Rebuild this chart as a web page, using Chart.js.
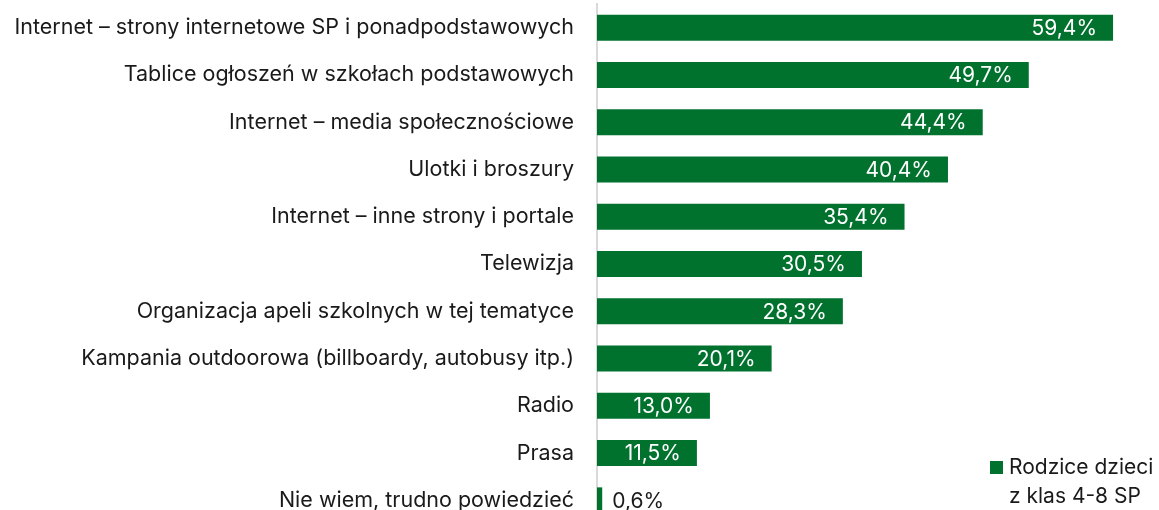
<!DOCTYPE html>
<html>
<head>
<meta charset="utf-8">
<script src="https://cdn.jsdelivr.net/npm/chart.js@4"></script>
<style>
  html, body { margin: 0; padding: 0; background: #fff; overflow: hidden; }
  #wrap { position: relative; width: 1159px; height: 510px; }
  #legend {
    position: absolute; left: 990px; top: 452px;
    font: 21px Inter, sans-serif; color: #1a1a1a; line-height: 29px;
  }
  #legend .box { display: inline-block; width: 13px; height: 13px; background: #00722e; margin-right: 6px; }
</style>
</head>
<body>
<div id="wrap">
  <canvas id="chart" width="1159" height="524"></canvas>
  <div id="legend"><span class="box"></span>Rodzice dzieci<br><span style="margin-left:19px">z klas 4-8 SP</span></div>
</div>
<script>
// kategorie i wartości (%)
const categories = [
  "Internet – strony internetowe SP i ponadpodstawowych",
  "Tablice ogłoszeń w szkołach podstawowych",
  "Internet – media społecznościowe",
  "Ulotki i broszury",
  "Internet – inne strony i portale",
  "Telewizja",
  "Organizacja apeli szkolnych w tej tematyce",
  "Kampania outdoorowa (billboardy, autobusy itp.)",
  "Radio",
  "Prasa",
  "Nie wiem, trudno powiedzieć"
];
const values = [59.4, 49.7, 44.4, 40.4, 35.4, 30.5, 28.3, 20.1, 13.0, 11.5, 0.6];
const seriesName = "Rodzice dzieci z klas 4-8 SP";

const fontFamily = "Inter, sans-serif";

// etykiety wartości na słupkach
const valueLabels = {
  id: "valueLabels",
  afterDatasetsDraw(chart) {
    const ctx = chart.ctx;
    const meta = chart.getDatasetMeta(0);
    ctx.save();
    ctx.font = "21px " + fontFamily;
    ctx.textBaseline = "middle";
    meta.data.forEach((bar, i) => {
      const text = values[i].toFixed(1).replace(".", ",") + "%";
      const w = ctx.measureText(text).width;
      const barW = bar.x - bar.base;
      if (barW > w + 24) {
        ctx.fillStyle = "#ffffff";
        ctx.textAlign = "right";
        ctx.fillText(text, bar.x - 16, bar.y + 1);
      } else {
        ctx.fillStyle = "#1a1a1a";
        ctx.textAlign = "left";
        ctx.fillText(text, bar.x + 10, bar.y + 1);
      }
    });
    ctx.restore();
  }
};

new Chart(document.getElementById("chart"), {
  type: "bar",
  data: {
    labels: categories,
    datasets: [{
      label: seriesName,
      data: values,
      backgroundColor: "#00722e",
      categoryPercentage: 1,
      barPercentage: 0.55
    }]
  },
  options: {
    indexAxis: "y",
    responsive: false,
    animation: false,
    layout: { padding: { top: 4, right: 6, left: 0, bottom: 0 } },
    plugins: {
      legend: { display: false },
      tooltip: { enabled: false }
    },
    scales: {
      x: {
        display: false,
        min: 0,
        max: 64
      },
      y: {
        afterFit(scale) {
          scale.width = 597;
          // bez dodatkowego marginesu od etykiet
          scale.paddingTop = 0;
          scale.paddingBottom = 0;
        },
        grid: { display: false, drawTicks: false },
        border: { display: true, color: "#d9d9d9", width: 2 },
        ticks: {
          color: "#1a1a1a",
          padding: 23,
          font: { size: 21.5, family: fontFamily }
        }
      }
    }
  },
  plugins: [valueLabels]
});
</script>
</body>
</html>
